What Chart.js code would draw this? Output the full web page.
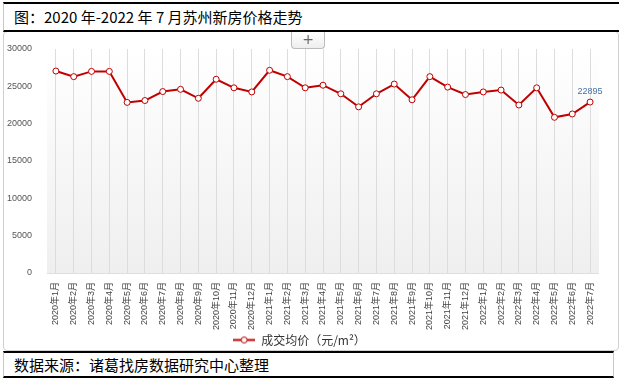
<!DOCTYPE html>
<html>
<head>
<meta charset="utf-8">
<script src="https://cdn.jsdelivr.net/npm/chart.js@4"></script>
<style>
  body { margin: 0; width: 623px; height: 385px; background: #fff; position: relative; overflow: hidden;
         font-family: "Noto Sans CJK SC", sans-serif; }
  #frame { position: absolute; left: 3px; top: 31px; width: 616px; height: 320px;
           border: 1px solid #d0d0d0; border-radius: 4px; box-sizing: border-box; }
  #chartWrap { position: absolute; left: 0; top: 0; width: 623px; height: 356px; }
  #titleBox { position: absolute; left: 3px; top: 2px; width: 616px; height: 30px; box-sizing: border-box;
              border-top: 2px solid #000; border-bottom: 2px solid #000; border-left: 1px solid #c8c8c8;
              background: #fff; font-size: 15px; line-height: 26px; padding-left: 10px; color: #000; }
  #plusBtn { position: absolute; left: 291px; top: 32px; width: 34px; height: 17px; box-sizing: border-box;
             border: 1px solid #bbb; border-top: none; border-radius: 0 0 4px 4px;
             background: linear-gradient(#fff, #eee); color: #666; font-size: 14px; line-height: 14px;
             text-align: center; font-family: "DejaVu Sans", sans-serif; }
  #sourceBox { position: absolute; left: 3px; top: 351px; width: 611px; height: 27px; box-sizing: border-box;
               border-top: 2px solid #000; border-bottom: 2px solid #000; border-left: 1px solid #c8c8c8;
               border-right: 1px solid #c8c8c8; background: #fff; font-size: 15px; line-height: 23px;
               padding-left: 10px; color: #000; }
</style>
</head>
<body>
<div id="frame"></div>
<div id="chartWrap"><canvas id="priceChart" width="623" height="356"></canvas></div>
<div id="titleBox">图：2020 年-2022 年 7 月苏州新房价格走势</div>
<div id="plusBtn">+</div>
<div id="sourceBox">数据来源：诸葛找房数据研究中心整理</div>
<script>
const months = [
  "2020年1月", "2020年2月", "2020年3月", "2020年4月", "2020年5月", "2020年6月",
  "2020年7月", "2020年8月", "2020年9月", "2020年10月", "2020年11月", "2020年12月",
  "2021年1月", "2021年2月", "2021年3月", "2021年4月", "2021年5月", "2021年6月",
  "2021年7月", "2021年8月", "2021年9月", "2021年10月", "2021年11月", "2021年12月",
  "2022年1月", "2022年2月", "2022年3月", "2022年4月", "2022年5月", "2022年6月", "2022年7月"
];
const avgPrice = [
  27050, 26300, 27000, 27000, 22850, 23100, 24300, 24600, 23400, 25950, 24800, 24250,
  27150, 26300, 24800, 25150, 24000, 22250, 24000, 25300, 23200, 26300, 24900, 23900,
  24250, 24500, 22500, 24800, 20850, 21300, 22895
];
const yTicks = [0, 5000, 10000, 15000, 20000, 25000, 30000];
const seriesName = "成交均价（元/m²）";

const lineRed = "#c00000";
const tickFont = '"Liberation Sans", "Noto Sans CJK SC", sans-serif';

// legend icon: line with a hollow circle
const legendIcon = document.createElement('canvas');
legendIcon.width = 22;
legendIcon.height = 9;
const ic = legendIcon.getContext('2d');
ic.strokeStyle = lineRed;
ic.lineWidth = 2;
ic.beginPath(); ic.moveTo(0, 4.5); ic.lineTo(22, 4.5); ic.stroke();
ic.fillStyle = "#fff";
ic.lineWidth = 1;
ic.beginPath(); ic.arc(11, 4.5, 3, 0, Math.PI * 2); ic.fill(); ic.stroke();

const plotBackground = {
  id: 'plotBackground',
  beforeDraw(chart) {
    const { ctx, chartArea: a } = chart;
    const g = ctx.createLinearGradient(0, a.top, 0, a.bottom);
    g.addColorStop(0, "#ffffff");
    g.addColorStop(1, "#efefef");
    ctx.save();
    ctx.fillStyle = g;
    ctx.fillRect(a.left, a.top, a.right - a.left, a.bottom - a.top);
    ctx.strokeStyle = "#dedede";
    ctx.lineWidth = 1;
    ctx.beginPath();
    ctx.moveTo(a.left, a.bottom + 0.5);
    ctx.lineTo(a.right, a.bottom + 0.5);
    ctx.stroke();
    ctx.restore();
  }
};

const lastLabel = {
  id: 'lastLabel',
  afterDatasetsDraw(chart) {
    const meta = chart.getDatasetMeta(0);
    const i = avgPrice.length - 1;
    const pt = meta.data[i];
    const ctx = chart.ctx;
    ctx.save();
    ctx.font = '9px ' + tickFont;
    ctx.fillStyle = "#4572a7";
    ctx.textAlign = 'center';
    ctx.textBaseline = 'middle';
    ctx.fillText(String(avgPrice[i]), pt.x, pt.y - 11);
    ctx.restore();
  }
};

new Chart(document.getElementById('priceChart'), {
  type: 'line',
  data: {
    labels: months,
    datasets: [{
      label: seriesName,
      data: avgPrice,
      borderColor: lineRed,
      borderWidth: 2,
      backgroundColor: "#ffffff",
      pointBackgroundColor: "#ffffff",
      pointBorderColor: lineRed,
      pointBorderWidth: 1,
      pointRadius: 3,
      tension: 0,
      fill: false
    }]
  },
  options: {
    responsive: false,
    animation: false,
    layout: { padding: { top: 49, left: 0, right: 24, bottom: 0 } },
    plugins: {
      tooltip: { enabled: false },
      legend: {
        position: 'bottom',
        labels: {
          usePointStyle: true,
          pointStyle: legendIcon,
          pointStyleWidth: 22,
          padding: 4,
          color: "#333",
          font: { size: 12, family: '"Noto Sans CJK SC", sans-serif' }
        }
      }
    },
    scales: {
      x: {
        offset: true,
        grid: { offset: false, color: "#dcdcdc", drawTicks: false },
        border: { display: false },
        ticks: {
          autoSkip: false, minRotation: 90, maxRotation: 90, padding: 9,
          color: "#444", font: { size: 9, family: tickFont }
        },
        afterFit(scale) { scale.height = 57; }
      },
      y: {
        min: 0, max: 30000,
        grid: { display: false },
        border: { display: false },
        afterBuildTicks(scale) { scale.ticks = yTicks.map(v => ({ value: v })); },
        ticks: {
          padding: 7, color: "#555", font: { size: 9, family: tickFont },
          callback: v => String(v)
        },
        afterFit(scale) { scale.width = 47; }
      }
    }
  },
  plugins: [plotBackground, lastLabel]
});
</script>
</body>
</html>
